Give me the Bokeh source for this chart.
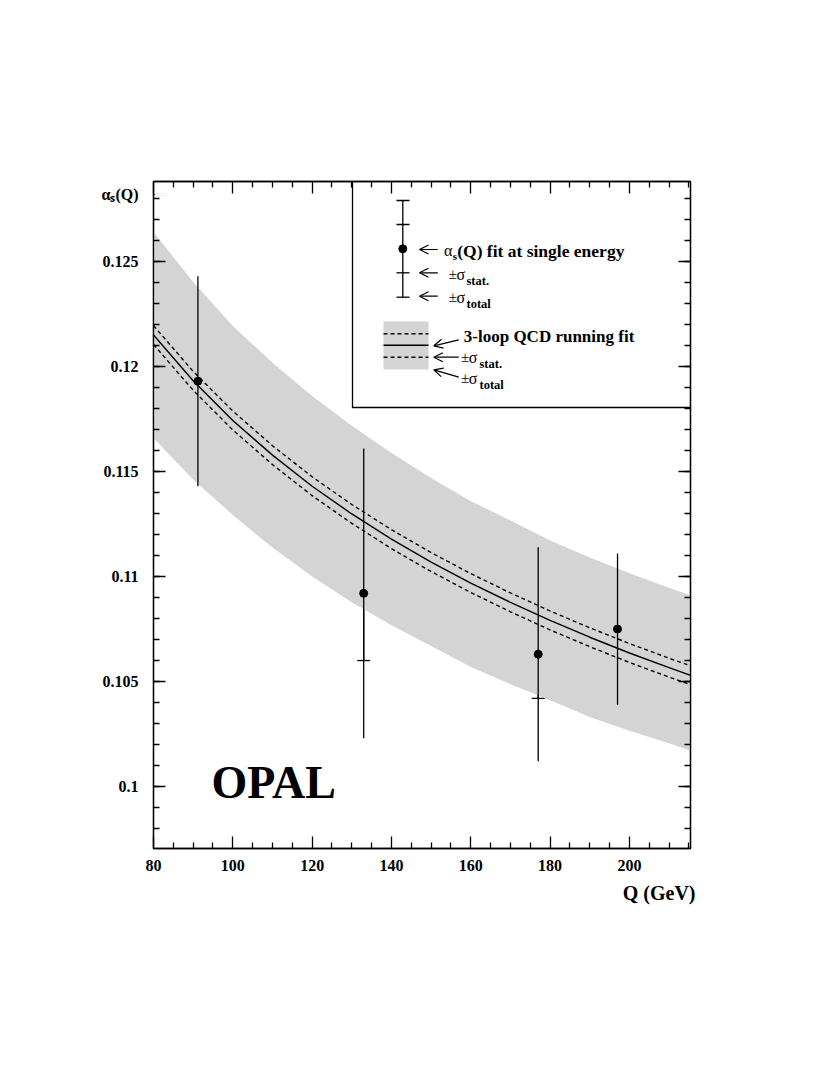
from bokeh.plotting import figure
from bokeh.models import (Range1d, LinearAxis, FixedTicker, CustomJSTickFormatter, Label,
                          Arrow, OpenHead, Whisker, TeeHead, ColumnDataSource, Title)
from bokeh.embed import file_html
from bokeh.resources import INLINE

# ---------------- data ----------------
q_points = [91.2, 133.0, 177.0, 197.0]
alpha_points = [0.1193, 0.1092, 0.1063, 0.1075]
stat_err = [0.0003, 0.0032, 0.0021, 0.0010]
total_err = [0.0050, 0.0069, 0.0051, 0.0036]

fit_q = [80, 90, 100, 110, 120, 130, 140, 150, 160, 170, 180, 190, 200, 210, 216]
fit_alpha = [0.12150, 0.11932, 0.11743, 0.11578, 0.11430, 0.11298, 0.11178, 0.11069,
             0.10969, 0.10877, 0.10791, 0.10711, 0.10636, 0.10566, 0.10526]
fit_stat_hi = [0.12195, 0.11977, 0.11788, 0.11623, 0.11475, 0.11343, 0.11223, 0.11114,
               0.11014, 0.10922, 0.10836, 0.10756, 0.10681, 0.10611, 0.10571]
fit_stat_lo = [0.12105, 0.11887, 0.11698, 0.11533, 0.11385, 0.11253, 0.11133, 0.11024,
               0.10924, 0.10832, 0.10746, 0.10666, 0.10591, 0.10521, 0.10481]
fit_total_hi = [0.12640, 0.12402, 0.12193, 0.12018, 0.11860, 0.11718, 0.11588, 0.11469,
                0.11359, 0.11267, 0.11171, 0.11091, 0.11016, 0.10946, 0.10906]
fit_total_lo = [0.11660, 0.11462, 0.11293, 0.11138, 0.11000, 0.10878, 0.10768, 0.10669,
                0.10569, 0.10487, 0.10411, 0.10331, 0.10266, 0.10206, 0.10166]

x_ticks = [80, 100, 120, 140, 160, 180, 200]
x_minor = [v for v in range(80, 216, 5) if v not in x_ticks]
y_ticks = [0.1, 0.105, 0.11, 0.115, 0.12, 0.125]
y_tick_labels = ["0.1", "0.105", "0.11", "0.115", "0.12", "0.125"]
y_minor = [round(0.097 + 0.001 * i, 3) for i in range(32)]

x_title = "Q (GeV)"
y_title = "α\u209b(Q)"
experiment = "OPAL"

# ---------------- figure ----------------
X0, X1 = 80.0, 215.4
Y0, Y1 = 0.09705, 0.12881
FL, FT, FW, FH = 153, 181, 537, 667

p = figure(width=FL + FW + 118, height=FT + FH + 200,
           x_range=Range1d(X0, X1), y_range=Range1d(Y0, Y1),
           x_axis_type=None, y_axis_type=None,
           output_backend="svg", toolbar_location=None,
           min_border_left=FL, min_border_right=118,
           min_border_top=FT, min_border_bottom=200)
p.outline_line_color = "black"
p.outline_line_width = 1.3
p.background_fill_color = "white"
p.border_fill_color = "white"

FONT = "Liberation Serif"


def style_axis(ax):
    ax.major_tick_in = 12
    ax.major_tick_out = 0
    ax.minor_tick_in = 6
    ax.minor_tick_out = 0
    ax.axis_line_width = 1.3
    ax.major_tick_line_width = 1.3
    ax.minor_tick_line_width = 1.3
    ax.axis_line_color = "black"
    ax.major_tick_line_color = "black"
    ax.minor_tick_line_color = "black"
    ax.major_label_text_font = FONT
    ax.major_label_text_font_style = "bold"
    ax.major_label_text_font_size = "16px"
    ax.major_label_text_color = "black"


def sx(X):
    return X0 + (X - FL) * (X1 - X0) / FW


def sy(Y):
    return Y1 - (Y - FT) * (Y1 - Y0) / FH


title_y = sy(194)

empty = CustomJSTickFormatter(code="return '';")
ylab = CustomJSTickFormatter(
    args=dict(tvals=y_ticks, tlabs=y_tick_labels, ty=title_y, tt=y_title), code="""
if (Math.abs(tick - ty) < 1e-7) return tt;
let best = 0;
for (let i = 0; i < tvals.length; i++) {
  if (Math.abs(tvals[i] - tick) < Math.abs(tvals[best] - tick)) best = i;
}
return tlabs[best];
""")

xb = LinearAxis(ticker=FixedTicker(ticks=x_ticks, minor_ticks=x_minor))
style_axis(xb)
xb.major_label_standoff = 11
p.add_layout(xb, "below")
xt = LinearAxis(ticker=FixedTicker(ticks=x_ticks, minor_ticks=x_minor), formatter=empty)
style_axis(xt)
p.add_layout(xt, "above")
yl = LinearAxis(ticker=FixedTicker(ticks=y_ticks + [title_y], minor_ticks=y_minor), formatter=ylab)
style_axis(yl)
yl.major_label_standoff = 15
p.add_layout(yl, "left")
yr = LinearAxis(ticker=FixedTicker(ticks=y_ticks, minor_ticks=y_minor), formatter=empty)
style_axis(yr)
p.add_layout(yr, "right")

# hide the tick mark that carries the y title
p.segment(x0=[sx(154.2)], y0=[title_y], x1=[sx(167)], y1=[title_y], line_color="white",
          line_width=2.5, level="overlay")

# x-axis title, right aligned under the axis
p.add_layout(Title(text=x_title, align="right", text_font=FONT, text_font_style="bold",
                   text_font_size="20px", text_color="black", standoff=12, offset=-5), "below")

# ---------------- fit band and curves ----------------
p.varea(x=fit_q, y1=fit_total_lo, y2=fit_total_hi, fill_color="#d4d4d4")
p.line(fit_q, fit_alpha, line_color="black", line_width=1.4)
p.line(fit_q, fit_stat_hi, line_color="black", line_width=1.4, line_dash="4 3")
p.line(fit_q, fit_stat_lo, line_color="black", line_width=1.4, line_dash="4 3")

# ---------------- data points ----------------
src = ColumnDataSource(dict(
    q=q_points, a=alpha_points,
    tlo=[a - e for a, e in zip(alpha_points, total_err)],
    thi=[a + e for a, e in zip(alpha_points, total_err)],
    slo=[a - e for a, e in zip(alpha_points, stat_err)],
    shi=[a + e for a, e in zip(alpha_points, stat_err)],
))
p.segment(x0="q", y0="tlo", x1="q", y1="thi", source=src, line_color="black", line_width=1.3)
p.add_layout(Whisker(source=src, base="q", upper="shi", lower="slo", dimension="height",
                     line_color="black", line_width=1.3,
                     upper_head=TeeHead(size=13, line_width=1.3, line_color="black"),
                     lower_head=TeeHead(size=13, line_width=1.3, line_color="black")))
p.scatter("q", "a", source=src, size=8, fill_color="black", line_color="black")

# ---------------- legend (decoration, placed in page pixels) ----------------
p.quad(left=[sx(352)], right=[X1], top=[Y1], bottom=[sy(407)],
       fill_color="white", line_color="black", line_width=1.3)

# single-energy symbol
ex = sx(402.3)
p.segment(x0=[ex], y0=[sy(200)], x1=[ex], y1=[sy(296.7)], line_color="black", line_width=1.3)
for yy in [200, 224, 272.3, 296.7]:
    p.segment(x0=[sx(396)], y0=[sy(yy)], x1=[sx(409)], y1=[sy(yy)], line_color="black", line_width=1.3)
p.scatter([ex], [sy(248.3)], size=8, fill_color="black", line_color="black")

# fit symbol
p.quad(left=[sx(383)], right=[sx(428)], top=[sy(321)], bottom=[sy(369)],
       fill_color="#d4d4d4", line_color=None)
p.segment(x0=[sx(383)], y0=[sy(344.7)], x1=[sx(428)], y1=[sy(344.7)], line_color="black", line_width=1.4)
for yy in [333.3, 356.7]:
    p.segment(x0=[sx(383)], y0=[sy(yy)], x1=[sx(428)], y1=[sy(yy)], line_color="black",
              line_width=1.4, line_dash="4 3")


def arrow(xs, ys, xe, ye):
    p.add_layout(Arrow(end=OpenHead(size=9, line_width=1.2, line_color="black"),
                       x_start=sx(xs), y_start=sy(ys), x_end=sx(xe), y_end=sy(ye),
                       line_color="black", line_width=1.2))


arrow(437.3, 249, 419, 249)
arrow(437.3, 272.3, 419, 272.3)
arrow(437.3, 295.7, 419, 295.7)
arrow(458.3, 339.3, 433.3, 345.3)
arrow(458.3, 356.7, 433.3, 356.7)
arrow(458.3, 376.7, 433.3, 369.3)


def txt(X, Y, t, size, bold=True, align="left"):
    p.add_layout(Label(x=sx(X), y=sy(Y), text=t, text_font=FONT,
                       text_font_style="bold" if bold else "normal",
                       text_font_size=f"{size}px", text_color="black",
                       text_baseline="middle", text_align=align))


# group 1
txt(443.5, 250, "α", 16, bold=False)
txt(452.3, 255, "s", 11)
txt(456.7, 250, "(Q) fit at single energy", 17.5)
for yy, sub in [(273.3, "stat."), (296.7, "total")]:
    txt(448.3, yy, "±", 15, bold=False)
    txt(456, yy + 0.5, "σ", 16, bold=False)
    txt(466, yy + 7, sub, 12.5)
# group 2
txt(463.3, 336, "3-loop QCD running fit", 17)
for yy, sub in [(356.7, "stat."), (377.5, "total")]:
    txt(460.5, yy, "±", 15, bold=False)
    txt(468.3, yy + 0.5, "σ", 16, bold=False)
    txt(479, yy + 7, sub, 12.5)

txt(211, 782, experiment, 46)

open("out.html", "w").write(file_html(p, INLINE))
